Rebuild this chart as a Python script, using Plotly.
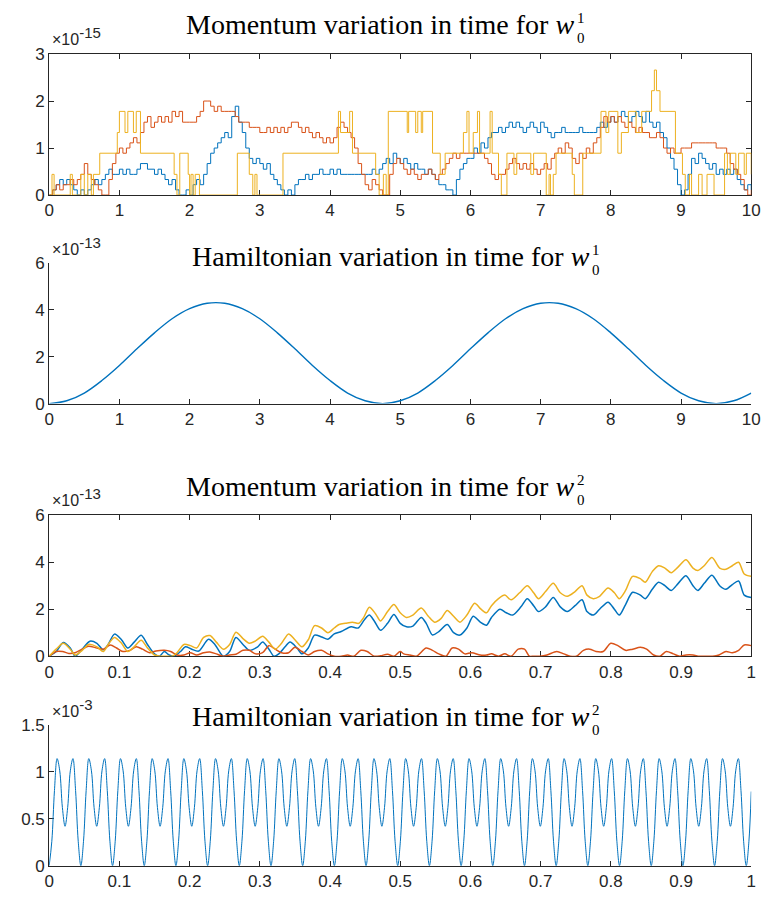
import plotly.graph_objects as go

# ---------------- Panel 1: momentum variation, w0^1 (x1e-15) ----------------
t1 = [round(0.05 * i, 2) for i in range(201)]
m1_blue = [
    0.0, 0.11, 0.22, 0.33, 0.22, 0.33, 0.22, 0.11, 0.0, 0.11, 0.0, 0.11, 0.22, 0.33, 0.22, 0.33, 0.44, 0.55, 0.44, 0.44,
    0.55, 0.44, 0.55, 0.44, 0.44, 0.55, 0.67, 0.67, 0.55, 0.55, 0.44, 0.55, 0.44, 0.33, 0.22, 0.33, 0.11, 0.0, 0.0, 0.11,
    0.0, 0.22, 0.33, 0.22, 0.44, 0.67, 0.89, 1.0, 1.11, 1.22, 1.33, 1.22, 1.67, 1.89, 1.55, 1.33, 1.0, 0.78, 0.67, 0.78,
    0.67, 0.55, 0.67, 0.44, 0.33, 0.22, 0.11, 0.0, 0.11, 0.0, 0.22, 0.33, 0.33, 0.44, 0.33, 0.44, 0.44, 0.55, 0.44, 0.44,
    0.55, 0.44, 0.55, 0.44, 0.44, 0.44, 0.44, 0.44, 0.44, 0.44, 0.44, 0.44, 0.55, 0.44, 0.55, 0.67, 0.78, 0.67, 0.89, 0.78,
    0.67, 0.78, 0.67, 0.55, 0.67, 0.55, 0.55, 0.44, 0.55, 0.44, 0.33, 0.22, 0.22, 0.11, 0.11, 0.0, 0.33, 0.55, 0.67, 0.78,
    0.78, 1.0, 0.89, 1.11, 1.0, 1.22, 1.33, 1.33, 1.44, 1.33, 1.44, 1.55, 1.44, 1.55, 1.44, 1.33, 1.44, 1.55, 1.44, 1.33,
    1.55, 1.44, 1.33, 1.22, 1.33, 1.33, 1.44, 1.33, 1.33, 1.33, 1.33, 1.44, 1.33, 1.33, 1.33, 1.33, 1.44, 1.55, 1.44, 1.55,
    1.67, 1.55, 1.67, 1.78, 1.67, 1.55, 1.67, 1.78, 1.67, 1.55, 1.78, 1.55, 1.44, 1.55, 1.33, 1.22, 1.0, 0.78, 0.55, 0.22,
    0.0, 0.11, 0.44, 0.78, 0.67, 0.89, 0.78, 0.67, 0.55, 0.67, 0.44, 0.55, 0.44, 0.55, 0.44, 0.55, 0.33, 0.22, 0.11, 0.22,
    0.11]
m1_red = [
    0.0, 0.11, 0.22, 0.11, 0.22, 0.22, 0.33, 0.22, 0.33, 0.44, 0.67, 0.44, 0.33, 0.22, 0.11, 0.0, 0.0, 0.33, 0.67, 0.89,
    1.0, 0.89, 1.0, 1.11, 1.22, 1.11, 1.33, 1.55, 1.67, 1.44, 1.55, 1.67, 1.55, 1.67, 1.55, 1.78, 1.67, 1.78, 1.55, 1.55,
    1.55, 1.55, 1.67, 1.78, 2.0, 2.0, 1.89, 1.78, 1.89, 1.78, 1.78, 1.78, 1.78, 1.67, 1.55, 1.55, 1.55, 1.44, 1.44, 1.44,
    1.33, 1.33, 1.44, 1.33, 1.44, 1.33, 1.44, 1.33, 1.44, 1.55, 1.55, 1.44, 1.33, 1.44, 1.33, 1.22, 1.33, 1.22, 1.11, 1.22,
    1.11, 1.22, 1.44, 1.55, 1.44, 1.33, 1.22, 1.0, 0.67, 0.44, 0.22, 0.11, 0.33, 0.22, 0.11, 0.0, 0.0, 0.44, 0.67, 0.78,
    0.67, 0.55, 0.44, 0.55, 0.44, 0.33, 0.44, 0.44, 0.55, 0.44, 0.33, 0.44, 0.55, 0.67, 0.78, 0.89, 0.78, 0.89, 0.89, 0.89,
    0.89, 0.89, 0.89, 0.89, 0.78, 0.67, 0.44, 0.33, 0.44, 0.44, 0.55, 0.67, 0.78, 0.67, 0.55, 0.67, 0.55, 0.67, 0.55, 0.44,
    0.55, 0.67, 0.55, 0.78, 0.89, 1.0, 0.89, 1.11, 1.0, 0.78, 0.67, 0.89, 0.78, 1.0, 0.89, 1.11, 1.22, 1.44, 1.67, 1.55,
    1.67, 1.55, 1.67, 1.55, 1.44, 1.55, 1.44, 1.33, 1.44, 1.33, 1.33, 1.22, 1.22, 1.33, 1.22, 1.0, 0.89, 1.0, 0.89, 0.89,
    1.0, 1.0, 1.0, 1.11, 1.11, 1.11, 1.11, 1.11, 1.11, 1.11, 1.0, 1.0, 1.0, 0.89, 0.67, 0.55, 0.44, 0.33, 0.11, 0.0,
    0.11]
t1_yellow = [
    0.00, 0.04, 0.07, 0.30, 0.33, 0.45, 0.50, 0.55, 0.60, 0.63, 0.72, 0.97, 1.00, 1.08, 1.12, 1.20, 1.24, 1.30, 1.78, 1.82,
    1.86, 1.98, 2.00, 2.02, 2.05, 2.08, 2.14, 2.68, 2.85, 2.90, 2.93, 2.96, 3.33, 4.12, 4.15, 4.28, 4.32, 4.65, 4.70, 4.76,
    4.80, 4.83, 5.10, 5.12, 5.22, 5.25, 5.30, 5.32, 5.46, 5.57, 5.64, 5.90, 5.95, 5.98, 6.04, 6.10, 6.13, 6.28, 6.31, 6.40,
    6.44, 6.52, 6.62, 6.66, 6.86, 6.90, 7.08, 7.12, 7.14, 7.18, 7.22, 7.45, 7.48, 7.60, 7.86, 7.93, 7.97, 8.10, 8.15, 8.25,
    8.36, 8.44, 8.58, 8.62, 8.65, 8.70, 8.92, 9.02, 9.06, 9.12, 9.15, 9.25, 9.30, 9.37, 9.47, 9.62, 9.66, 9.70, 9.78, 9.82,
    9.90, 9.93, 10.0]
m1_yellow = [
    0.0, 0.44, 0.0, 0.44, 0.0, 0.44, 0.0, 0.44, 0.0, 0.44, 0.89, 1.33, 1.78, 1.33, 1.78, 1.33, 1.78, 0.89, 0.44, 0.0,
    0.89, 0.44, 0.0, 0.44, 0.0, 0.44, 0.0, 0.89, 0.44, 0.0, 0.44, 0.0, 0.89, 1.78, 1.33, 1.78, 0.89, 0.44, 0.0, 0.44,
    0.0, 1.78, 1.33, 1.78, 1.33, 1.78, 1.33, 1.78, 0.89, 0.44, 0.89, 1.33, 1.78, 0.89, 1.33, 1.78, 0.89, 1.78, 0.89, 0.44,
    0.0, 0.89, 0.44, 0.89, 0.44, 0.89, 0.0, 0.44, 0.0, 0.44, 0.89, 0.44, 0.0, 0.89, 1.78, 1.33, 1.78, 0.89, 1.33, 1.78,
    1.33, 1.78, 2.22, 2.66, 2.22, 1.78, 0.89, 0.44, 0.0, 0.44, 0.0, 0.44, 0.0, 0.44, 0.0, 0.89, 0.44, 0.89, 0.44, 0.89,
    0.44, 0.89, 0.44]

# ---------------- Panel 2: Hamiltonian variation, w0^1 (x1e-13) ----------------
t2 = [round(0.25 * i, 2) for i in range(41)]
h2 = [0.0, 0.12, 0.45, 0.98, 1.62, 2.33, 3.01, 3.61, 4.04, 4.27, 4.27, 4.04, 3.61, 3.01, 2.33, 1.62, 0.98, 0.45, 0.12, 0.0,
      0.12, 0.45, 0.98, 1.62, 2.33, 3.01, 3.61, 4.04, 4.27, 4.27, 4.04, 3.61, 3.01, 2.33, 1.62, 0.98, 0.45, 0.12, 0.0, 0.12,
      0.45]

# ---------------- Panel 3: momentum variation, w0^2 (x1e-13) ----------------
t3_blue = [0.0, 0.01, 0.02, 0.03, 0.037, 0.047, 0.058, 0.068, 0.077, 0.084, 0.093, 0.103, 0.112, 0.121, 0.131, 0.14, 0.15,
           0.157, 0.164, 0.171, 0.178, 0.187, 0.194, 0.203, 0.213, 0.227, 0.236, 0.248, 0.257, 0.266, 0.276, 0.285, 0.297,
           0.304, 0.313, 0.32, 0.327, 0.336, 0.343, 0.353, 0.36, 0.369, 0.378, 0.388, 0.397, 0.406, 0.416, 0.43, 0.44,
           0.449, 0.456, 0.463, 0.472, 0.482, 0.491, 0.5, 0.509, 0.518, 0.53, 0.537, 0.546, 0.555, 0.567, 0.576, 0.585,
           0.595, 0.604, 0.614, 0.623, 0.63, 0.642, 0.651, 0.66, 0.672, 0.681, 0.69, 0.697, 0.707, 0.718, 0.728, 0.738,
           0.749, 0.759, 0.766, 0.775, 0.784, 0.796, 0.805, 0.812, 0.821, 0.831, 0.842, 0.849, 0.859, 0.868, 0.877, 0.886,
           0.896, 0.907, 0.917, 0.924, 0.933, 0.944, 0.955, 0.964, 0.973, 0.982, 0.99, 1.0]
m3_blue = [0.0, 0.2, 0.58, 0.35, 0.0, 0.3, 0.64, 0.55, 0.27, 0.5, 0.94, 0.7, 0.35, 0.6, 0.89, 0.5, 0.1,
           0.0, 0.2, 0.05, 0.0, 0.2, 0.4, 0.3, 0.22, 0.72, 0.5, 0.0, 0.2, 0.8, 0.5, 0.25, 0.4,
           0.6, 0.3, 0.0, 0.1, 0.4, 0.6, 0.35, 0.1, 0.35, 0.9, 0.82, 0.72, 0.95, 1.05, 1.25, 1.2,
           1.55, 1.75, 1.5, 1.1, 1.4, 1.78, 1.4, 1.25, 1.28, 1.65, 1.4, 0.9, 1.05, 1.35, 1.0, 0.9,
           1.2, 1.7, 1.45, 1.32, 1.65, 2.0, 1.85, 1.75, 2.1, 2.45, 2.15, 1.9, 2.1, 2.5, 2.1, 1.9,
           2.15, 2.4, 1.9, 1.75, 2.0, 2.3, 2.0, 1.75, 2.2, 2.72, 2.6, 2.45, 2.85, 3.15, 3.0, 2.8,
           3.1, 3.42, 3.0, 2.8, 3.1, 3.45, 3.0, 2.85, 3.05, 3.2, 2.6, 2.5]
t3_red = [0.0, 0.01, 0.019, 0.028, 0.037, 0.047, 0.056, 0.068, 0.077, 0.087, 0.096, 0.105, 0.115, 0.124, 0.133, 0.143,
          0.152, 0.164, 0.173, 0.182, 0.192, 0.201, 0.21, 0.22, 0.229, 0.238, 0.248, 0.257, 0.266, 0.276, 0.285, 0.294,
          0.304, 0.313, 0.322, 0.331, 0.341, 0.35, 0.36, 0.369, 0.378, 0.388, 0.397, 0.406, 0.416, 0.425, 0.434, 0.444,
          0.453, 0.463, 0.472, 0.482, 0.491, 0.5, 0.505, 0.514, 0.523, 0.537, 0.546, 0.555, 0.565, 0.574, 0.583, 0.592,
          0.602, 0.614, 0.623, 0.63, 0.64, 0.649, 0.658, 0.668, 0.677, 0.684, 0.69, 0.699, 0.709, 0.723, 0.733, 0.742,
          0.751, 0.761, 0.77, 0.779, 0.789, 0.8, 0.81, 0.821, 0.831, 0.842, 0.851, 0.861, 0.87, 0.879, 0.889, 0.898,
          0.907, 0.917, 0.926, 0.935, 0.945, 0.954, 0.964, 0.973, 0.982, 0.99, 1.0]
m3_red = [0.0, 0.2, 0.2, 0.12, 0.15, 0.3, 0.42, 0.35, 0.3, 0.48, 0.35, 0.2, 0.25, 0.4, 0.3, 0.15,
          0.22, 0.25, 0.2, 0.05, 0.05, 0.15, 0.05, 0.15, 0.18, 0.1, 0.0, 0.05, 0.08, 0.25, 0.25, 0.1,
          0.15, 0.45, 0.3, 0.15, 0.15, 0.38, 0.2, 0.05, 0.2, 0.25, 0.1, 0.0, 0.0, 0.05, 0.0, 0.25,
          0.2, 0.0, 0.02, 0.08, 0.0, 0.2, 0.1, 0.05, 0.0, 0.35, 0.25, 0.1, 0.0, 0.35, 0.3, 0.1,
          0.15, 0.05, 0.05, 0.1, 0.0, 0.1, 0.0, 0.3, 0.3, 0.0, 0.0, 0.0, 0.05, 0.2, 0.1, 0.0,
          0.0, 0.25, 0.3, 0.2, 0.2, 0.55, 0.45, 0.25, 0.3, 0.38, 0.3, 0.05, 0.0, 0.2, 0.1, 0.0,
          0.05, 0.05, 0.0, 0.0, 0.0, 0.05, 0.2, 0.15, 0.25, 0.48, 0.45]
t3_yellow = [0.0, 0.01, 0.02, 0.03, 0.037, 0.047, 0.056, 0.068, 0.077, 0.084, 0.093, 0.103, 0.112, 0.121, 0.131, 0.14,
             0.15, 0.159, 0.168, 0.175, 0.182, 0.192, 0.201, 0.21, 0.22, 0.229, 0.238, 0.248, 0.257, 0.266, 0.276, 0.285,
             0.294, 0.304, 0.313, 0.322, 0.331, 0.341, 0.35, 0.36, 0.369, 0.378, 0.388, 0.397, 0.406, 0.413, 0.422,
             0.432, 0.441, 0.448, 0.456, 0.465, 0.472, 0.482, 0.491, 0.5, 0.509, 0.518, 0.53, 0.54, 0.549, 0.558, 0.567,
             0.576, 0.585, 0.595, 0.606, 0.615, 0.623, 0.63, 0.64, 0.649, 0.658, 0.67, 0.681, 0.69, 0.697, 0.707, 0.718,
             0.728, 0.738, 0.749, 0.759, 0.766, 0.775, 0.784, 0.796, 0.805, 0.812, 0.821, 0.831, 0.842, 0.849, 0.859,
             0.868, 0.877, 0.886, 0.896, 0.907, 0.917, 0.924, 0.933, 0.944, 0.955, 0.964, 0.973, 0.982, 0.99, 1.0]
m3_yellow = [0.0, 0.3, 0.55, 0.3, 0.05, 0.25, 0.5, 0.4, 0.2, 0.5, 0.8, 0.55, 0.2, 0.4, 0.68, 0.35,
             0.05, 0.0, 0.0, 0.0, 0.15, 0.5, 0.45, 0.35, 0.8, 0.88, 0.6, 0.3, 0.5, 1.02, 0.75, 0.55,
             0.65, 0.85, 0.6, 0.3, 0.55, 0.95, 0.7, 0.4, 0.7, 1.3, 1.2, 1.0, 1.2, 1.35, 1.4,
             1.45, 1.4, 1.65, 2.08, 1.8, 1.5, 1.9, 2.2, 1.85, 1.65, 1.75, 2.05, 1.7, 1.45, 1.6, 1.95,
             1.7, 1.45, 1.75, 2.25, 2.0, 1.85, 2.15, 2.45, 2.6, 2.4, 2.7, 3.0, 2.7, 2.45, 2.75, 3.1,
             2.7, 2.55, 2.75, 3.0, 2.6, 2.45, 2.55, 2.9, 2.7, 2.45, 2.8, 3.4, 3.3, 3.15, 3.6,
             3.85, 3.75, 3.55, 3.8, 4.1, 3.75, 3.65, 3.85, 4.2, 3.75, 3.7, 3.85, 4.0, 3.5, 3.4]

# ---------------- Panel 4: Hamiltonian variation, w0^2 (x1e-3) ----------------
h4_one_period = [0.0, 0.26, 0.80, 1.14, 1.01, 0.62, 0.42, 0.62, 1.01, 1.14, 0.80, 0.26]
n_periods4 = 22
h4 = h4_one_period * n_periods4 + [0.0, 0.26, 0.79]
step4 = 0.003761
t4 = [round(step4 * i, 5) for i in range(len(h4) - 1)] + [1.0]

# ---------------- ticks / labels ----------------
x10_ticks = list(range(0, 11))
x1_ticks = [0, 0.1, 0.2, 0.3, 0.4, 0.5, 0.6, 0.7, 0.8, 0.9, 1]
x1_text = ["0", "0.1", "0.2", "0.3", "0.4", "0.5", "0.6", "0.7", "0.8", "0.9", "1"]
y4_ticks = [0, 0.5, 1, 1.5]
y4_text = ["0", "0.5", "1", "1.5"]
titles = ["Momentum variation in time for <i>w</i>",
          "Hamiltonian variation in time for <i>w</i>",
          "Momentum variation in time for <i>w</i>",
          "Hamiltonian variation in time for <i>w</i>"]
title_supsub = ["1<br>0", "1<br>0", "2<br>0", "2<br>0"]
exponents = ["-15", "-13", "-13", "-3"]

BLUE, RED, YEL = "#0072BD", "#D95319", "#EDB120"
AX = "#262626"
W, H = 774, 911

fig = go.Figure()
# panel 1
fig.add_trace(go.Scatter(x=t1, y=m1_blue, mode="lines", line=dict(color=BLUE, width=1, shape="hv"), xaxis="x", yaxis="y"))
fig.add_trace(go.Scatter(x=t1, y=m1_red, mode="lines", line=dict(color=RED, width=1, shape="hv"), xaxis="x", yaxis="y"))
fig.add_trace(go.Scatter(x=t1_yellow, y=m1_yellow, mode="lines", line=dict(color=YEL, width=1, shape="hv"), xaxis="x", yaxis="y"))
# panel 2
fig.add_trace(go.Scatter(x=t2, y=h2, mode="lines", line=dict(color=BLUE, width=1.4, shape="spline"), xaxis="x2", yaxis="y2"))
# panel 3
for tx, ty, col in [(t3_blue, m3_blue, BLUE), (t3_red, m3_red, RED), (t3_yellow, m3_yellow, YEL)]:
    fig.add_trace(go.Scatter(x=tx, y=ty, mode="lines", line=dict(color=col, width=1.5, shape="spline", smoothing=0.8),
                             xaxis="x3", yaxis="y3"))
# panel 4
fig.add_trace(go.Scatter(x=t4, y=h4, mode="lines", line=dict(color=BLUE, width=1, shape="spline"), xaxis="x4", yaxis="y4"))

x_left, x_right = 45, 760
panels_px = [(46, 190), (259, 403), (517, 661), (731, 875)]   # (top, bottom) in pixels
title_px = [16, 253, 488, 723]
w_end_px = [582, 598, 582, 598]
exp_px = [42, 256, 513, 728]

def ydom(top, bot):
    return [1 - bot / H, 1 - top / H]

tickfont = dict(family="Liberation Sans, Arial, sans-serif", size=17, color=AX)
common = dict(showline=True, linecolor=AX, linewidth=1, ticks="inside", ticklen=5, tickcolor=AX,
              showgrid=False, zeroline=False, tickfont=tickfont, layer="below traces", fixedrange=True)

xd = [x_left / W, x_right / W]
layout = dict(width=W, height=H, margin=dict(l=0, r=0, t=0, b=0), paper_bgcolor="white", plot_bgcolor="white",
              showlegend=False)
boxes = [True, False, True, False]
xcfg = [dict(range=[0, 10], tickvals=x10_ticks), dict(range=[0, 10], tickvals=x10_ticks),
        dict(range=[0, 1], tickvals=x1_ticks, ticktext=x1_text), dict(range=[0, 1], tickvals=x1_ticks, ticktext=x1_text)]
ycfg = [dict(range=[0, 3], tickvals=[0, 1, 2, 3]), dict(range=[0, 6], tickvals=[0, 2, 4, 6]),
        dict(range=[0, 6], tickvals=[0, 2, 4, 6]), dict(range=[0, 1.5], tickvals=y4_ticks, ticktext=y4_text)]
for i in range(4):
    sfx = "" if i == 0 else str(i + 1)
    top, bot = panels_px[i]
    mir = "ticks" if boxes[i] else False
    layout["xaxis" + sfx] = dict(common, domain=xd, anchor="y" + sfx, mirror=mir, **xcfg[i])
    layout["yaxis" + sfx] = dict(common, domain=ydom(top, bot), anchor="x" + sfx, mirror=mir, **ycfg[i])

SERIF = "Liberation Serif, Times New Roman, serif"
SANS = "Liberation Sans, Arial, sans-serif"
annotations = []
for i in range(4):
    annotations.append(dict(text=titles[i], xref="paper", yref="paper", x=w_end_px[i] / W,
                            y=1 - title_px[i] / H, xanchor="right", yanchor="middle", showarrow=False,
                            font=dict(family=SERIF, size=28, color="black")))
    annotations.append(dict(text=title_supsub[i], xref="paper", yref="paper", x=(w_end_px[i] - 2) / W,
                            y=1 - (title_px[i] + 3) / H, xanchor="left", yanchor="middle", showarrow=False,
                            align="left", font=dict(family=SERIF, size=15, color="black")))
    annotations.append(dict(text="\u00d710<sup><span style='font-size:15px'>" + exponents[i] + "</span></sup>",
                            xref="paper", yref="paper",
                            x=(x_left + 1) / W, y=1 - exp_px[i] / H, xanchor="left", yanchor="bottom",
                            showarrow=False, font=dict(family=SANS, size=16, color=AX)))
layout["annotations"] = annotations
fig.update_layout(**layout)
fig.write_html("out.html", config={"displayModeBar": False}, post_script="document.body.style.margin='0px';")
